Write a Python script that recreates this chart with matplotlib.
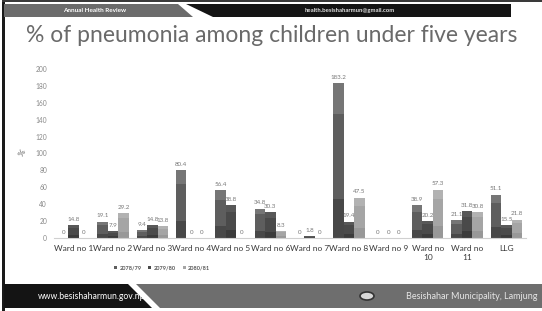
import matplotlib
matplotlib.use("Agg")
import matplotlib.pyplot as plt
import numpy as np
from matplotlib.patches import Polygon, Circle, Patch

categories = ["Ward no 1", "Ward no 2", "Ward no 3", "Ward no 4", "Ward no 5",
              "Ward no 6", "Ward no 7", "Ward no 8", "Ward no 9", "Ward no\n10",
              "Ward no\n11", "LLG"]
series_names = ["2078/79", "2079/80", "2080/81"]
v2078 = [0, 19.1, 9.4, 80.4, 56.4, 34.8, 0, 183.2, 0, 38.9, 21.1, 51.1]
v2079 = [14.8, 7.9, 14.8, 0, 38.8, 30.3, 1.8, 19.4, 0, 20.2, 31.8, 15.5]
v2080 = [0, 29.2, 13.8, 0, 0, 8.3, 0, 47.5, 0, 57.3, 30.8, 21.8]
yticks = [0, 20, 40, 60, 80, 100, 120, 140, 160, 180, 200]

W, H = 542, 311
fig = plt.figure(figsize=(W / 100, H / 100), dpi=100)
fig.patch.set_facecolor("white")

def P(x, y):
    return (x / W, 1 - y / H)

def poly(pts, color, z=1):
    fig.patches.append(Polygon([P(*p) for p in pts], closed=True, transform=fig.transFigure,
                               facecolor=color, edgecolor="none", zorder=z))

# border
poly([(2, 0), (5, 0), (5, 311), (2, 311)], "#1a1a1a")
poly([(2, 0), (542, 0), (542, 2), (2, 2)], "#3a3a3a")
# header
poly([(4, 4), (178, 4), (193, 17), (4, 17)], "#6b6b6b")
poly([(186, 4), (511, 4), (511, 17), (213, 17)], "#141414")
fig.text(95 / W, 1 - 10.5 / H, "Annual Health Review", color="white", fontsize=4.6,
         fontweight="bold", ha="center", va="center", family="Lato")
fig.text(350 / W, 1 - 10.5 / H, "health.besishaharmun@gmail.com", color="#e0e0e0",
         fontsize=4.3, fontweight="bold", ha="center", va="center", family="Lato")
# footer
poly([(4, 284), (128, 284), (152, 308), (4, 308)], "#141414")
poly([(136, 284), (542, 284), (542, 308), (160, 308)], "#6e6e6e")
fig.text(92 / W, 1 - 296.5 / H, "www.besishaharmun.gov.np", color="white", fontsize=6.2,
         ha="center", va="center", family="Lato")
fig.text(472 / W, 1 - 296.5 / H, "Besishahar Municipality, Lamjung", color="#e6e6e6",
         fontsize=6.5, ha="center", va="center", family="Lato")
fig.patches.append(Circle(P(367, 296), 7 / W, transform=fig.transFigure,
                          facecolor="#d8d8d8", edgecolor="#333333", linewidth=1.2, zorder=2))

# title
fig.text(272 / W, 1 - 36 / H, "% of pneumonia among children under five years",
         color="#6a6a6a", fontsize=16.5, ha="center", va="center", family="Lato")

ax = fig.add_axes([54 / W, 1 - 238 / H, 472 / W, 169 / H])
x = np.arange(len(categories))
bw = 0.265
offsets = [-bw, 0, bw]
series = [v2078, v2079, v2080]
shades = [("#767676", "#5e5e5e", "#484848"),
          ("#585858", "#4a4a4a", "#3b3b3b"),
          ("#b2b2b2", "#a5a5a5", "#989898")]
for vals, off, (c1, c2, c3), name in zip(series, offsets, shades, series_names):
    v = np.array(vals, dtype=float)
    ax.bar(x + off, v, bw, color=c1, zorder=2, label=name)
    ax.bar(x + off, v * 0.8, bw, color=c2, zorder=2)
    ax.bar(x + off, v * 0.25, bw, color=c3, zorder=2)
    for xi, vi in zip(x + off, v):
        ax.text(xi, vi + 4, f"{vi:g}", ha="center", va="bottom", fontsize=4.5,
                color="#777777", family="Lato", zorder=3)

ax.set_xlim(-0.5, len(categories) - 0.5)
ax.set_ylim(0, 200)
ax.set_yticks(yticks)
ax.set_yticklabels([str(t) for t in yticks], fontsize=4.8, color="#888888", family="Lato")
ax.set_xticks(x)
ax.set_xticklabels(categories, fontsize=6.0, color="#3a3a3a", family="Lato", linespacing=1.3)
ax.tick_params(axis="both", length=0)
ax.tick_params(axis="y", pad=5)
ax.tick_params(axis="x", pad=5)
for s in ["top", "right", "left"]:
    ax.spines[s].set_visible(False)
ax.spines["bottom"].set_color("#d0d0d0")
ax.spines["bottom"].set_linewidth(0.8)
ax.patch.set_alpha(0)

fig.text(22 / W, 1 - 153 / H, "%", fontsize=6, color="#555555", rotation=60,
         ha="center", va="center", family="Lato")

handles = [Patch(facecolor=s[1]) for s in shades]
fig.legend(handles, series_names, loc="center", bbox_to_anchor=(162 / W, 1 - 268 / H),
           ncol=3, frameon=False, prop={"family": "Lato", "size": 4, "weight": "bold"},
           handlelength=0.6, handleheight=0.6, handletextpad=0.4, columnspacing=1.2,
           labelcolor="#555555")

fig.savefig("out.png", dpi=100, facecolor="white")
